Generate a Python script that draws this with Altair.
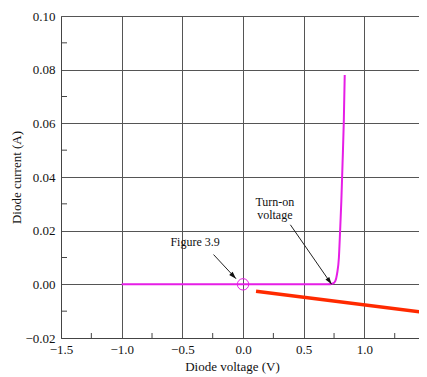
import altair as alt
import pandas as pd

# Diode I-V curve (magenta)
curve_v = [-1.0, 0.0, 0.5, 0.70, 0.74, 0.76, 0.775, 0.79, 0.80, 0.81, 0.82, 0.83, 0.838]
curve_i = [0.0, 0.0, 0.0, 0.0, 0.0003, 0.0012, 0.004, 0.010, 0.020, 0.031, 0.045, 0.060, 0.078]

# load line (red)
load_v = [0.107, 1.5]
load_i = [-0.0026, -0.0105]

# operating point marker
marker_v = [0.0]
marker_i = [0.0]

# annotations
label_text = ["Figure 3.9", "Turn-on", "voltage"]
label_v = [-0.395, 0.262, 0.262]
label_i = [0.0156, 0.0308, 0.0259]

arrow_v1 = [-0.243, 0.390]
arrow_i1 = [0.0111, 0.0222]
arrow_v2 = [-0.058, 0.730]
arrow_i2 = [0.0021, 0.0000]
arrow_angle = [137, 145]

x_major = [-1.5, -1.0, -0.5, 0.0, 0.5, 1.0, 1.5]
y_major = [-0.02, 0.0, 0.02, 0.04, 0.06, 0.08, 0.10]
x_minor = [-1.25, -0.75, -0.25, 0.25, 0.75, 1.25]
y_minor = [-0.01, 0.01, 0.03, 0.05, 0.07, 0.09]

# the visible window cuts the plot just before V = 1.5
x_view = [-1.5, 1.45]

W, H = 358, 322
FONT = "Liberation Serif"

xs = alt.Scale(domain=x_view, nice=False, zero=False)
ys = alt.Scale(domain=[-0.02, 0.10], nice=False, zero=False)

x_axis = alt.Axis(values=x_major, format=".1f", grid=True, gridColor="#555555", gridWidth=1,
                  gridOpacity=1, tickSize=0, labelPadding=5, labelFont=FONT, labelFontSize=13,
                  labelColor="#111111", domainColor="#444444", title="Diode voltage (V)",
                  titleFont=FONT, titleFontSize=13, titleFontWeight="normal", titleColor="#111111",
                  titleX=171, titleY=32, titleBaseline="alphabetic", labelFlush=False,
                  labelOverlap=False, labelBound=False)
y_axis = alt.Axis(values=y_major, format=".2f", grid=True, gridColor="#555555", gridWidth=1,
                  gridOpacity=1, tickSize=0, labelPadding=6, labelFont=FONT, labelFontSize=13,
                  labelColor="#111111", domainColor="#444444", title="Diode current (A)",
                  titleFont=FONT, titleFontSize=13, titleFontWeight="normal", titleColor="#111111",
                  titleX=-45, titleY=161, titleAngle=-90, titleAlign="center",
                  titleBaseline="middle", labelFlush=False)

curve_df = pd.DataFrame({"v": curve_v, "i": curve_i})
load_df = pd.DataFrame({"v": load_v, "i": load_i})
marker_df = pd.DataFrame({"v": marker_v, "i": marker_i})
label_df = pd.DataFrame({"t": label_text, "v": label_v, "i": label_i})
arrow_df = pd.DataFrame({"v1": arrow_v1, "i1": arrow_i1, "v2": arrow_v2, "i2": arrow_i2,
                         "a": arrow_angle})
xmin_df = pd.DataFrame({"v": x_minor})
ymin_df = pd.DataFrame({"i": y_minor})

base_axes = alt.Chart(curve_df).mark_line(opacity=0).encode(
    x=alt.X("v:Q", scale=xs, axis=x_axis),
    y=alt.Y("i:Q", scale=ys, axis=y_axis),
)

curve = alt.Chart(curve_df).mark_line(color="#e61ee6", strokeWidth=2, interpolate="monotone").encode(
    x=alt.X("v:Q", scale=xs), y=alt.Y("i:Q", scale=ys))

load = alt.Chart(load_df).mark_line(color="#ff2a00", strokeWidth=3.5, clip=True).encode(
    x=alt.X("v:Q", scale=xs), y=alt.Y("i:Q", scale=ys))

marker = alt.Chart(marker_df).mark_point(shape="circle", filled=False, size=130,
                                         color="#e61ee6", strokeWidth=1, opacity=1).encode(
    x=alt.X("v:Q", scale=xs), y=alt.Y("i:Q", scale=ys))

labels = alt.Chart(label_df).mark_text(font=FONT, fontSize=12, color="#111111",
                                       align="center", baseline="middle").encode(
    x=alt.X("v:Q", scale=xs), y=alt.Y("i:Q", scale=ys), text="t:N")

arrow_lines = alt.Chart(arrow_df).mark_rule(color="#222222", strokeWidth=1).encode(
    x=alt.X("v1:Q", scale=xs), y=alt.Y("i1:Q", scale=ys),
    x2="v2:Q", y2="i2:Q")

arrow_heads = alt.Chart(arrow_df).mark_point(
    shape="M0,0L-0.32,1L0.32,1Z", filled=True, size=220, color="#111111", opacity=1).encode(
    x=alt.X("v2:Q", scale=xs), y=alt.Y("i2:Q", scale=ys),
    angle=alt.Angle("a:Q", scale=None))

xminor = alt.Chart(xmin_df).mark_rule(color="#444444", strokeWidth=1).encode(
    x=alt.X("v:Q", scale=xs), y=alt.value(H), y2=alt.value(H - 5))

yminor = alt.Chart(ymin_df).mark_rule(color="#444444", strokeWidth=1).encode(
    y=alt.Y("i:Q", scale=ys), x=alt.value(0), x2=alt.value(6))

chart = alt.layer(base_axes, xminor, yminor, load, curve, marker, arrow_lines, arrow_heads, labels).properties(
    width=W, height=H,
    autosize=alt.AutoSizeParams(type="none"),
    padding={"left": 53, "top": 8, "right": 0, "bottom": 36},
).configure_view(stroke=None).configure(font=FONT, background="white")

chart.save("out.html", embed_options={"renderer": "svg", "actions": False})
